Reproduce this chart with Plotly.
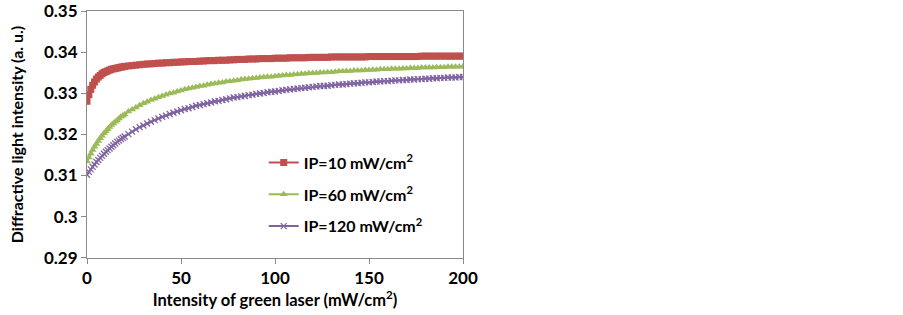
import plotly.graph_objects as go

# Intensity of green laser (mW/cm^2): every 1 unit up to 19, then every 2 units
intensity = list(range(0, 20)) + list(range(20, 201, 2))

ip10 = [
    0.3281, 0.3297, 0.3310, 0.3320, 0.3328, 0.3335, 0.3340, 0.3344, 0.3348, 0.3351,
    0.3353, 0.3355, 0.3357, 0.3359, 0.3360, 0.3361, 0.3362, 0.3363, 0.3364, 0.3365,
    0.3366, 0.3367, 0.3368, 0.3369, 0.3370, 0.3371, 0.3372, 0.3372, 0.3373, 0.3374,
    0.3374, 0.3375, 0.3375, 0.3376, 0.3376, 0.3377, 0.3377, 0.3378, 0.3378, 0.3378,
    0.3379, 0.3379, 0.3380, 0.3380, 0.3380, 0.3381, 0.3381, 0.3381, 0.3382, 0.3382,
    0.3383, 0.3383, 0.3383, 0.3384, 0.3384, 0.3384, 0.3385, 0.3385, 0.3385, 0.3385,
    0.3386, 0.3386, 0.3386, 0.3386, 0.3387, 0.3387, 0.3387, 0.3387, 0.3387, 0.3388,
    0.3388, 0.3388, 0.3388, 0.3388, 0.3388, 0.3389, 0.3389, 0.3389, 0.3389, 0.3389,
    0.3389, 0.3389, 0.3389, 0.3389, 0.3389, 0.3390, 0.3390, 0.3390, 0.3390, 0.3390,
    0.3390, 0.3390, 0.3390, 0.3390, 0.3390, 0.3390, 0.3390, 0.3390, 0.3390, 0.3391,
    0.3391, 0.3391, 0.3391, 0.3391, 0.3391, 0.3391, 0.3391, 0.3391, 0.3391, 0.3391,
    0.3391,
]

ip60 = [
    0.3134, 0.3144, 0.3153, 0.3162, 0.3170, 0.3177, 0.3184, 0.3191, 0.3197, 0.3203,
    0.3208, 0.3213, 0.3218, 0.3223, 0.3227, 0.3231, 0.3235, 0.3239, 0.3243, 0.3246,
    0.3249, 0.3256, 0.3261, 0.3266, 0.3271, 0.3276, 0.3280, 0.3284, 0.3287, 0.3291,
    0.3294, 0.3297, 0.3300, 0.3302, 0.3305, 0.3307, 0.3310, 0.3312, 0.3314, 0.3316,
    0.3318, 0.3319, 0.3321, 0.3323, 0.3324, 0.3326, 0.3327, 0.3329, 0.3330, 0.3331,
    0.3332, 0.3334, 0.3335, 0.3336, 0.3337, 0.3338, 0.3339, 0.3340, 0.3341, 0.3341,
    0.3342, 0.3343, 0.3344, 0.3345, 0.3345, 0.3346, 0.3347, 0.3348, 0.3348, 0.3349,
    0.3350, 0.3350, 0.3351, 0.3351, 0.3352, 0.3352, 0.3353, 0.3354, 0.3354, 0.3355,
    0.3355, 0.3356, 0.3356, 0.3356, 0.3357, 0.3357, 0.3358, 0.3358, 0.3359, 0.3359,
    0.3359, 0.3360, 0.3360, 0.3360, 0.3361, 0.3361, 0.3362, 0.3362, 0.3362, 0.3363,
    0.3363, 0.3363, 0.3363, 0.3364, 0.3364, 0.3364, 0.3365, 0.3365, 0.3365, 0.3365,
    0.3366,
]

ip120 = [
    0.3102, 0.3109, 0.3115, 0.3121, 0.3127, 0.3133, 0.3138, 0.3143, 0.3148, 0.3153,
    0.3158, 0.3162, 0.3166, 0.3170, 0.3174, 0.3178, 0.3182, 0.3185, 0.3189, 0.3192,
    0.3195, 0.3201, 0.3207, 0.3213, 0.3218, 0.3222, 0.3227, 0.3231, 0.3235, 0.3239,
    0.3243, 0.3246, 0.3250, 0.3253, 0.3256, 0.3259, 0.3262, 0.3264, 0.3267, 0.3270,
    0.3272, 0.3274, 0.3276, 0.3278, 0.3281, 0.3282, 0.3284, 0.3286, 0.3288, 0.3290,
    0.3291, 0.3293, 0.3294, 0.3296, 0.3297, 0.3299, 0.3300, 0.3301, 0.3303, 0.3304,
    0.3305, 0.3306, 0.3308, 0.3309, 0.3310, 0.3311, 0.3312, 0.3313, 0.3314, 0.3315,
    0.3316, 0.3317, 0.3318, 0.3318, 0.3319, 0.3320, 0.3321, 0.3322, 0.3322, 0.3323,
    0.3324, 0.3325, 0.3325, 0.3326, 0.3327, 0.3327, 0.3328, 0.3329, 0.3329, 0.3330,
    0.3330, 0.3331, 0.3332, 0.3332, 0.3333, 0.3333, 0.3334, 0.3334, 0.3335, 0.3335,
    0.3336, 0.3336, 0.3337, 0.3337, 0.3338, 0.3338, 0.3339, 0.3339, 0.3339, 0.3340,
    0.3340,
]

series_names = ["IP=10 mW/cm<sup>2</sup>", "IP=60 mW/cm<sup>2</sup>", "IP=120 mW/cm<sup>2</sup>"]
y_ticks = [0.29, 0.30, 0.31, 0.32, 0.33, 0.34, 0.35]
x_ticks = [0, 50, 100, 150, 200]

FONT = "Lato, 'Open Sans', sans-serif"
styles = [
    dict(color="#C0504D", symbol="square", size=7),
    dict(color="#9BBB59", symbol="triangle-up", size=7),
    dict(color="#8064A2", symbol="x-thin", size=6),
]

fig = go.Figure()
for i, (name, ys, st) in enumerate(zip(series_names, [ip10, ip60, ip120], styles)):
    marker = dict(color=st["color"], symbol=st["symbol"], size=st["size"])
    if st["symbol"] == "x-thin":
        marker["line"] = dict(color=st["color"], width=1.3)
    fig.add_trace(go.Scatter(
        x=intensity, y=ys, name=name, mode="lines+markers",
        line=dict(color=st["color"], width=2),
        marker=marker, legendgroup=f"g{i}",
    ))

axis_common = dict(
    showline=True, linecolor="#8A8A8A", linewidth=1, mirror=True,
    ticks="outside", ticklen=5, tickcolor="#8A8A8A",
    showgrid=False, zeroline=False, automargin=False,
    tickfont=dict(family=FONT, size=17, color="#000000", weight="bold"),
)

fig.update_layout(
    width=903, height=315,
    margin=dict(l=87, r=440, t=11, b=57),
    paper_bgcolor="white", plot_bgcolor="white",
    font=dict(family=FONT, color="#000000"),
    xaxis=dict(
        range=[0, 200], tickvals=x_ticks,
        title=dict(text="Intensity of green laser (mW/cm<sup>2</sup>)",
                   font=dict(family=FONT, size=16.5, color="#000000", weight="bold"),
                   standoff=4),
        **axis_common,
    ),
    yaxis=dict(
        range=[0.2899, 0.3501], tickvals=y_ticks,
        title=dict(text="Diffractive light intensity (a. u.)",
                   font=dict(family=FONT, size=16, color="#000000", weight="bold"),
                   standoff=16),
        **axis_common,
    ),
    legend=dict(
        x=0.47, y=0.455, xanchor="left", yanchor="top",
        bgcolor="rgba(0,0,0,0)", borderwidth=0,
        font=dict(family=FONT, size=16, color="#000000", weight="bold"),
        tracegroupgap=8, itemwidth=30,
    ),
    showlegend=True,
)

fig.write_html(
    "out.html",
    config={"displayModeBar": False},
    post_script="document.body.style.margin='0';document.body.style.padding='0';",
)
